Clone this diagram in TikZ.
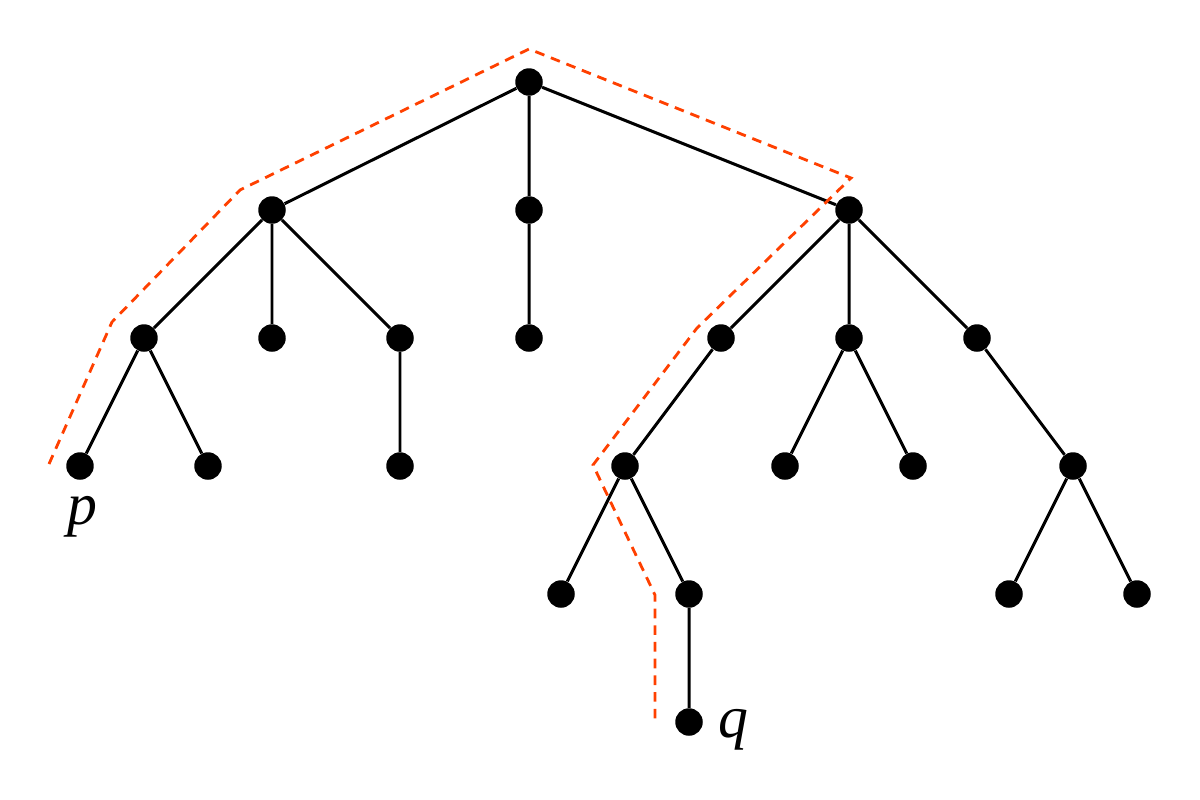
\documentclass[tikz,border=0pt]{standalone}
\usepackage{fontspec}
\newfontfamily\lblfont{Liberation Serif}
\begin{document}
\begin{tikzpicture}[x=0.02cm,y=-0.02cm,
  dot/.style={circle,fill=black,inner sep=0pt,minimum size=0.55cm},
  edge/.style={line width=1.7pt,black},
  route/.style={line width=1.6pt,color={rgb,255:red,255;green,64;blue,0},dash pattern=on 5.5pt off 4pt},
  lbl/.style={inner sep=0pt,font=\lblfont\itshape\fontsize{34}{40}\selectfont}]
\useasboundingbox (0,0) rectangle (1200,799);
% nodes
\node[dot] (r) at (529,82) {};
\node[dot] (a) at (272,210) {};
\node[dot] (b) at (529,210) {};
\node[dot] (c) at (849,210) {};
\node[dot] (a1) at (144,338) {};
\node[dot] (a2) at (272,338) {};
\node[dot] (a3) at (400,338) {};
\node[dot] (b1) at (529,338) {};
\node[dot] (c1) at (721,338) {};
\node[dot] (c2) at (849,338) {};
\node[dot] (c3) at (977,338) {};
\node[dot] (p) at (80,466) {};
\node[dot] (a12) at (208,466) {};
\node[dot] (a31) at (400,466) {};
\node[dot] (c11) at (625,466) {};
\node[dot] (c21) at (785,466) {};
\node[dot] (c22) at (913,466) {};
\node[dot] (c31) at (1073,466) {};
\node[dot] (c111) at (561,594) {};
\node[dot] (c112) at (689,594) {};
\node[dot] (c311) at (1009,594) {};
\node[dot] (c312) at (1137,594) {};
\node[dot] (q) at (689,722) {};
% labels
\node[lbl] (plbl) at (82,517) {p};
\node[lbl] (qlbl) at (733,730) {q};
% edges
\draw[edge] (r)--(a) (r)--(b) (r)--(c)
  (a)--(a1) (a)--(a2) (a)--(a3)
  (b)--(b1)
  (c)--(c1) (c)--(c2) (c)--(c3)
  (a1)--(p) (a1)--(a12)
  (a3)--(a31)
  (c1)--(c11)
  (c2)--(c21) (c2)--(c22)
  (c3)--(c31)
  (c11)--(c111) (c11)--(c112)
  (c31)--(c311) (c31)--(c312)
  (c112)--(q);
% route from p to q
\coordinate (w0) at (49,464);
\coordinate (w1) at (112,322);
\coordinate (w2) at (240,190);
\coordinate (w3) at (529,49);
\coordinate (w4) at (851,178);
\coordinate (w5) at (697,328);
\coordinate (w6) at (593,465);
\coordinate (w7) at (655,595);
\coordinate (w8) at (655,722);
\draw[route] (w0)--(w1)--(w2)--(w3)--(w4)--(w5)--(w6)--(w7)--(w8);
\end{tikzpicture}
\end{document}
